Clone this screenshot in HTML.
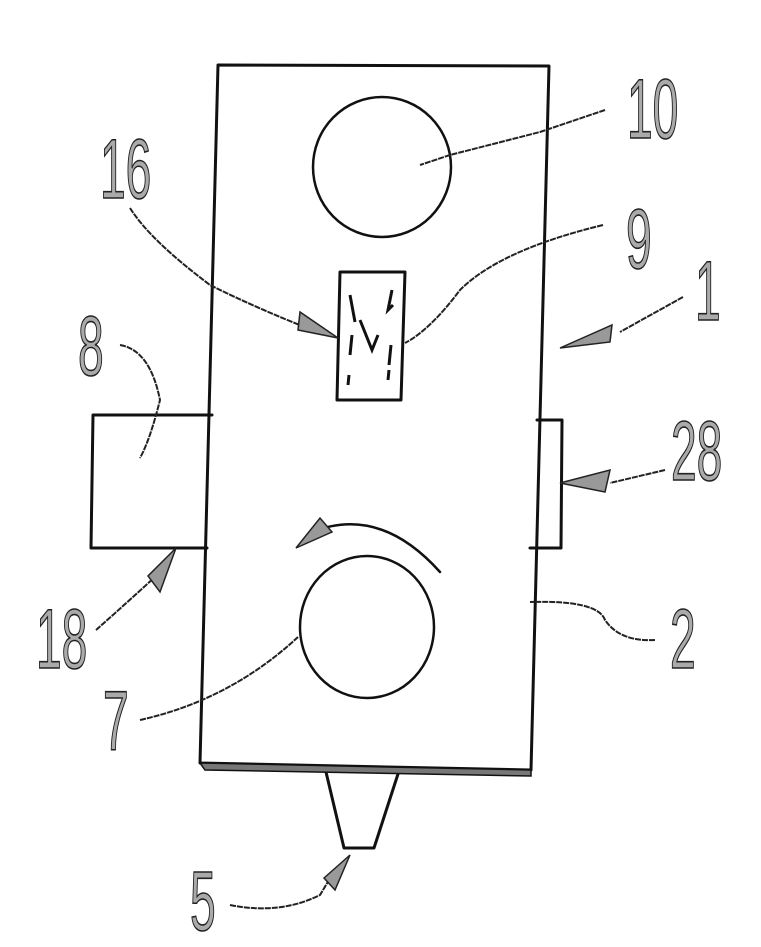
<!DOCTYPE html>
<html><head><style>html,body{margin:0;padding:0;background:#fff;}svg{display:block}</style></head>
<body>
<svg width="761" height="947" viewBox="0 0 761 947" xmlns="http://www.w3.org/2000/svg">
<g fill="none" stroke="#111" stroke-width="3" stroke-linejoin="round" stroke-linecap="round">
<!-- main body -->
<path d="M218 65 L549 66 L531 770 L200 763 Z"/>
<!-- circle 10 -->
<ellipse cx="382" cy="167" rx="69" ry="70" stroke-width="2.5"/>
<!-- motor box -->
<path d="M340 272 L405 272 L401 400 L337 400 Z"/>
<!-- box 8 -->
<path d="M93 415 L212 415 M93 415 L91 548 L207 548"/>
<!-- box 28 -->
<path d="M537 420 L562 420 L561 548 L530 548"/>
<!-- circle 7 -->
<ellipse cx="367" cy="627" rx="67" ry="71" stroke-width="2.5"/>
<!-- rotation arc -->
<path d="M312 532 Q380 505 440 572" stroke-width="2.5"/>
<!-- nozzle -->
<path d="M326 772 L344 848 L374 848 L398 774" />
</g>
<!-- bottom thick -->
<path d="M200 763 L531 770 L531 776 L205 770 Z" fill="#777" stroke="#111" stroke-width="1.5"/>
<!-- M letters dashed -->
<g stroke="#111" stroke-width="3" fill="none">
<path d="M350 295 L355 322 M360 320 L372 350 L378 335 M352 335 L350 355 M349 375 L348 385 M392 290 L388 310 L393 305 M391 345 L389 365 M389 370 L388 380"/>
</g>
<!-- leaders -->
<g fill="none" stroke="#222" stroke-width="2" stroke-dasharray="6 1">
<path d="M605 110 L540 132 L450 155 L420 165"/>
<path d="M130 208 Q150 240 210 285 Q260 310 325 335"/>
<path d="M603 225 Q500 250 460 290 Q430 330 405 343"/>
<path d="M683 297 L620 332"/>
<path d="M120 345 Q150 350 160 400 Q150 440 140 458"/>
<path d="M665 470 L610 483"/>
<path d="M96 630 Q130 600 168 565"/>
<path d="M655 640 Q620 642 605 620 Q598 600 530 602"/>
<path d="M140 720 Q230 700 298 637"/>
<path d="M230 905 Q280 915 320 895 L335 870"/>
</g>
<!-- arrowheads -->
<g fill="#999" stroke="#222" stroke-width="1.5">
<path d="M338 338 L300 312 L298 330 Z"/>
<path d="M560 348 L612 325 L610 342 Z"/>
<path d="M560 483 L610 470 L605 492 Z"/>
<path d="M176 548 L148 576 L160 592 Z"/>
<path d="M296 548 L332 532 L320 518 Z"/>
<path d="M350 855 L335 890 L324 878 Z"/>
</g>
<!-- labels -->
<g font-family="Liberation Sans, sans-serif" font-size="84" fill="#aaa" stroke="#222" stroke-width="1.6">
<text transform="translate(100,198) scale(0.55,1)">16</text>
<text transform="translate(627,138) scale(0.55,1)">10</text>
<text transform="translate(626,268) scale(0.55,1)">9</text>
<text transform="translate(695,320) scale(0.55,1)">1</text>
<text transform="translate(78,375) scale(0.55,1)">8</text>
<text transform="translate(671,480) scale(0.55,1)">28</text>
<text transform="translate(36,668) scale(0.55,1)">18</text>
<text transform="translate(670,668) scale(0.55,1)">2</text>
<text transform="translate(103,750) scale(0.55,1)">7</text>
<text transform="translate(190,930) scale(0.55,1)">5</text>
</g>
</svg>
</body></html>
